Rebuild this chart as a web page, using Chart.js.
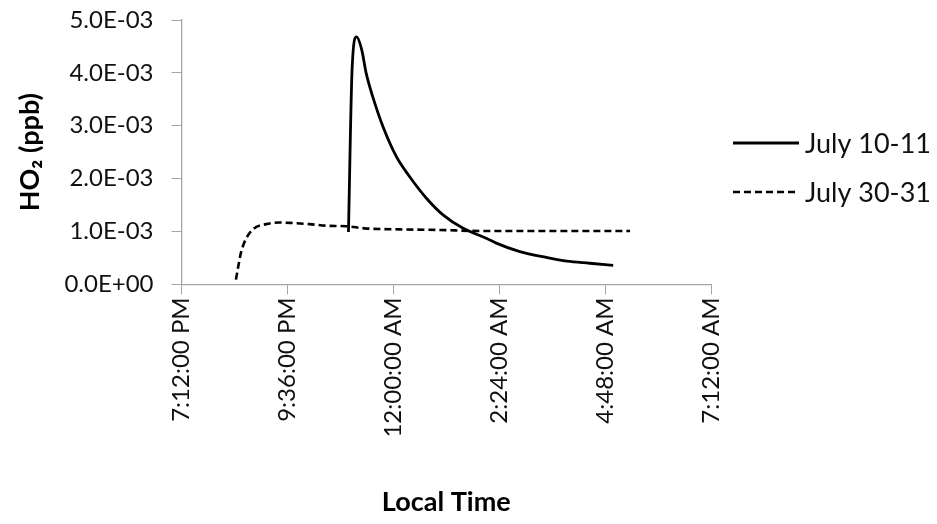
<!DOCTYPE html>
<html>
<head>
<meta charset="utf-8">
<script src="https://cdn.jsdelivr.net/npm/chart.js@4"></script>
<style>
  html, body { margin: 0; padding: 0; background: #fff; }
  #grafico { display: block; }
</style>
</head>
<body>
<canvas id="grafico" width="937" height="524"></canvas>
<script>
// series names
const seriesLabels = ['July 10-11', 'July 30-31'];

// time in minutes after midnight of the first day (1440 = midnight of the next day)
const julyTenTimes = [1379, 1384, 1390, 1397, 1403, 1412, 1426, 1444, 1462, 1485, 1508, 1535, 1567, 1580, 1612, 1648, 1676, 1707, 1739];
const julyTenValues = [0.99e-3, 4.09e-3, 4.68e-3, 4.44e-3, 4.00e-3, 3.55e-3, 2.98e-3, 2.42e-3, 2.04e-3, 1.63e-3, 1.31e-3, 1.06e-3, 0.87e-3, 0.78e-3, 0.62e-3, 0.51e-3, 0.44e-3, 0.40e-3, 0.36e-3];

const julyThirtyTimes = [1226, 1229, 1233, 1240, 1251, 1267, 1285, 1303, 1326, 1349, 1376, 1401, 1449, 1503, 1558, 1762];
const julyThirtyValues = [0.09e-3, 0.33e-3, 0.61e-3, 0.87e-3, 1.06e-3, 1.14e-3, 1.17e-3, 1.16e-3, 1.14e-3, 1.11e-3, 1.10e-3, 1.06e-3, 1.04e-3, 1.03e-3, 1.01e-3, 1.01e-3];

// axis ticks
const xTickMinutes = [1152, 1296, 1440, 1584, 1728, 1872];
const xTickLabels = ['7:12:00 PM', '9:36:00 PM', '12:00:00 AM', '2:24:00 AM', '4:48:00 AM', '7:12:00 AM'];
const yTickLabels = ['0.0E+00', '1.0E-03', '2.0E-03', '3.0E-03', '4.0E-03', '5.0E-03'];

const fuente = 'Lato, "Open Sans", sans-serif';
const gris = '#a6a6a6';

const aPuntos = (xs, ys) => xs.map((x, i) => ({ x: x, y: ys[i] }));

// leyenda dibujada a mano (linea + texto) a la derecha
const leyendaLineas = {
    id: 'leyendaLineas',
    afterDraw(chart) {
        const ctx = chart.ctx;
        const filas = [143, 192];
        ctx.save();
        chart.data.datasets.forEach((ds, i) => {
            const y = filas[i];
            ctx.beginPath();
            ctx.setLineDash(ds.borderDash || []);
            ctx.lineWidth = ds.borderWidth;
            ctx.strokeStyle = ds.borderColor;
            ctx.moveTo(733, y);
            ctx.lineTo(799, y);
            ctx.stroke();
            ctx.setLineDash([]);
            ctx.fillStyle = '#111';
            ctx.font = '27px ' + fuente;
            ctx.textAlign = 'left';
            ctx.textBaseline = 'middle';
            ctx.fillText(ds.label, 805, y + 1);
        });
        ctx.restore();
    }
};

new Chart(document.getElementById('grafico').getContext('2d'), {
    type: 'line',
    data: {
        datasets: [
            {
                label: seriesLabels[0],
                data: aPuntos(julyTenTimes, julyTenValues),
                borderColor: '#000',
                borderWidth: 2.8,
                pointRadius: 0,
                cubicInterpolationMode: 'monotone',
                fill: false
            },
            {
                label: seriesLabels[1],
                data: aPuntos(julyThirtyTimes, julyThirtyValues),
                borderColor: '#000',
                borderWidth: 2.6,
                borderDash: [7, 4],
                pointRadius: 0,
                cubicInterpolationMode: 'monotone',
                fill: false
            }
        ]
    },
    options: {
        responsive: false,
        animation: false,
        devicePixelRatio: 1,
        layout: {
            padding: { left: 10, right: 226, top: 20, bottom: 4 }
        },
        plugins: {
            legend: { display: false },
            tooltip: { enabled: false }
        },
        scales: {
            x: {
                type: 'linear',
                min: xTickMinutes[0],
                max: xTickMinutes[xTickMinutes.length - 1],
                afterBuildTicks: (scale) => {
                    scale.ticks = xTickMinutes.map(v => ({ value: v }));
                },
                ticks: {
                    callback: (value, index) => xTickLabels[index],
                    minRotation: 90,
                    maxRotation: 90,
                    padding: 3,
                    color: '#111',
                    font: { family: fuente, size: 24 }
                },
                grid: {
                    drawOnChartArea: false,
                    drawTicks: true,
                    tickLength: 10,
                    color: gris
                },
                border: { color: gris, width: 1.3 },
                title: {
                    display: true,
                    text: 'Local Time',
                    color: '#000',
                    font: { family: fuente, size: 27, weight: 'bold' },
                    padding: { top: 45, bottom: 2 }
                }
            },
            y: {
                min: 0,
                max: 0.005,
                afterBuildTicks: (scale) => {
                    scale.ticks = yTickLabels.map((_, i) => ({ value: i * 0.001 }));
                },
                afterFit: (scale) => {
                    // el margen superior lo pone layout.padding
                    scale.paddingTop = 0;
                },
                ticks: {
                    callback: (value, index) => yTickLabels[index],
                    padding: 18,
                    color: '#111',
                    font: { family: fuente, size: 24 }
                },
                grid: {
                    drawOnChartArea: false,
                    drawTicks: true,
                    tickLength: 10,
                    color: gris
                },
                border: { color: gris, width: 1.3 },
                title: {
                    display: true,
                    text: 'HO₂ (ppb)',
                    color: '#000',
                    font: { family: fuente, size: 27, weight: 'bold' },
                    padding: { top: 4, bottom: 0 }
                }
            }
        }
    },
    plugins: [leyendaLineas]
});
</script>
</body>
</html>
